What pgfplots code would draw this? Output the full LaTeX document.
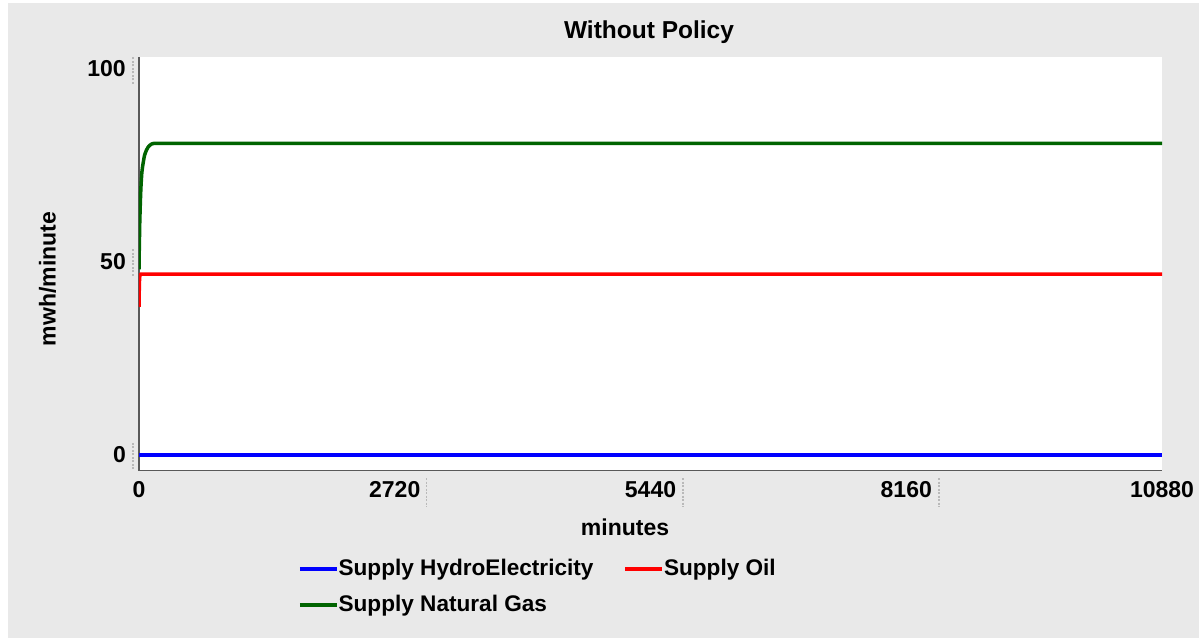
\documentclass[border=0pt]{standalone}
\usepackage{fontspec}
\setmainfont{Liberation Sans}
\usepackage{pgfplots}
\pgfplotsset{compat=1.18}
\definecolor{bggray}{RGB}{233,233,233}
\definecolor{hydro}{RGB}{0,0,255}
\definecolor{oil}{RGB}{255,0,0}
\definecolor{gas}{RGB}{0,100,0}
\definecolor{tickdash}{RGB}{185,185,185}
\newcommand{\fs}[1]{\bfseries\fontsize{#1}{#1}\selectfont}
\begin{document}
\begin{tikzpicture}
\useasboundingbox (-139pt,-167.3pt) rectangle (1060pt,470.7pt);
\fill[white] (-139pt,-167.3pt) rectangle (1060pt,470.7pt);
\fill[bggray] (-131pt,-167.3pt) rectangle (1060pt,467.7pt);
\begin{axis}[
  at={(0,0)}, anchor=south west,
  scale only axis,
  width=1023pt, height=413.7pt,
  xmin=0, xmax=10880,
  ymin=-4.06, ymax=102.95,
  axis lines=left,
  axis line style={-, draw=black!65, line width=1.4pt},
  axis background/.style={fill=white},
  xtick={0,2720,5440,8160,10880},
  ytick={0,50,100},
  scaled x ticks=false,
  scaled y ticks=false,
  major tick length=0pt,
  /pgf/number format/assume math mode=true,
  /pgf/number format/1000 sep={},
  xticklabel style={font=\fs{23}, inner sep=0pt, anchor=north, yshift=-11pt},
  yticklabel style={font=\fs{23}, inner sep=0pt, anchor=east, xshift=-13pt},
  every axis title shift=0pt,
  title={Without Policy},
  title style={font=\fs{24.5}, at={(0.4985,1.0459)}, anchor=base, inner sep=0pt},
  xlabel={minutes},
  xlabel style={font=\fs{23}, at={(0.4751,-0.1578)}, anchor=base, inner sep=0pt},
  ylabel={mwh/minute},
  ylabel style={font=\fs{23}, at={(-0.0894,0.4634)}, anchor=center, inner sep=0pt},
  legend columns=2,
  legend cell align=left,
  legend style={draw=none, fill=none, inner sep=0pt, outer sep=0pt,
    at={(0.1555,-0.2134)}, anchor=north west,
    font=\fs{22.6},
    nodes={inner sep=0pt, text height=17pt, text depth=3pt},
    row sep=16pt,
    /tikz/every even column/.append style={column sep=30pt}},
  legend image code/.code={\draw[line width=3.5pt] (0pt,0pt) -- (37pt,0pt);},
  line join=round,
]
\addplot[hydro, line width=3.5pt] coordinates {(0,0) (10880,0)};
\addlegendentry{Supply HydroElectricity}
\addplot[oil, line width=3.5pt] coordinates {(0,38.3) (3,43) (6,45.6) (10,46.5) (15,46.8) (30,46.8) (10880,46.8)};
\addlegendentry{Supply Oil}
\addplot[gas, line width=3.5pt] coordinates {(0,48) (2,52) (5,56) (8,60) (12,63.5) (16,66.5) (20,69) (25,71.2) (30,73) (38,74.6) (46,75.8) (53,76.8) (60,77.6) (70,78.3) (80,78.9) (96,79.6) (110,80) (125,80.3) (140,80.5) (160,80.6) (250,80.6) (10880,80.6)};
\addlegendentry{Supply Natural Gas}
\end{axis}
% tick markers (dashed)
\begin{scope}[draw=tickdash, line width=1.2pt, dash pattern=on 2pt off 1.5pt]
\draw (287.7pt,-7.3pt) -- (287.7pt,-36.3pt);
\draw (544pt,-7.3pt) -- (544pt,-36.3pt);
\draw (800pt,-7.3pt) -- (800pt,-36.3pt);
\draw (-6pt,1.7pt) -- (-6pt,29.7pt);
\draw (-6pt,195pt) -- (-6pt,223pt);
\draw (-6pt,386.7pt) -- (-6pt,414.7pt);
\end{scope}
\end{tikzpicture}
\end{document}
